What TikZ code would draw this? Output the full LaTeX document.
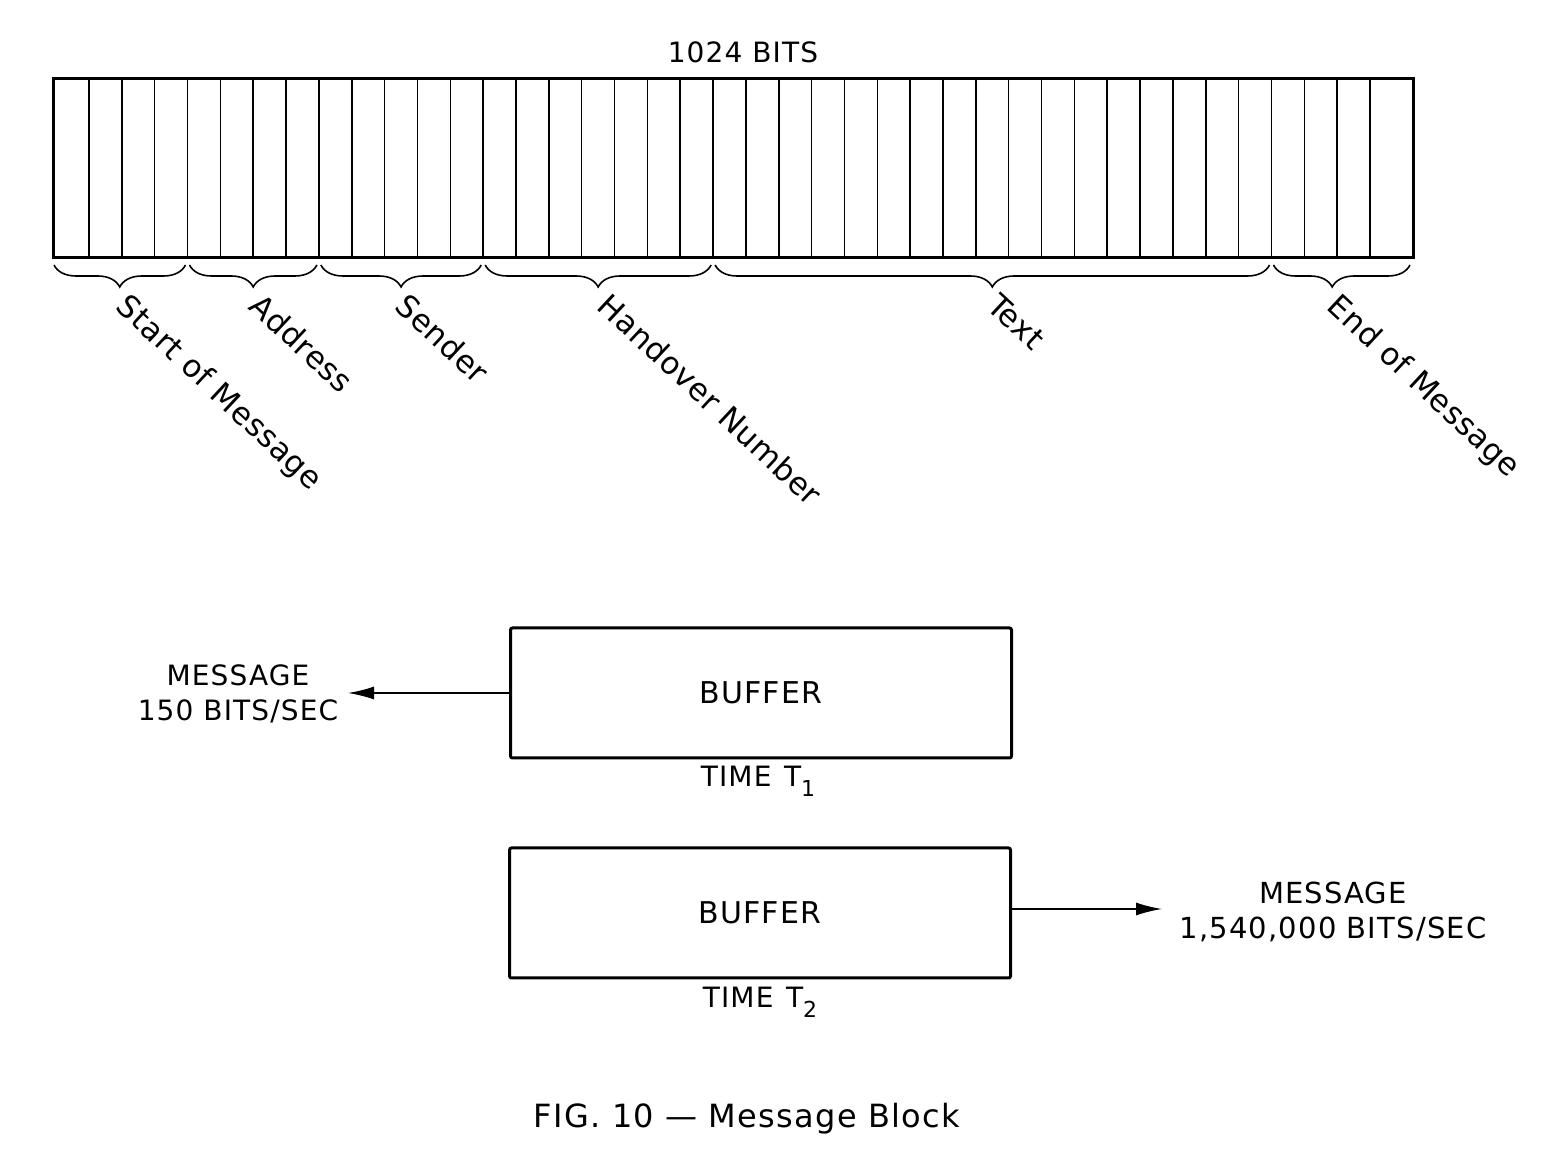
\documentclass[tikz,border=0pt]{standalone}
\usepackage{fontspec}
\setmainfont{DejaVu Sans}[LetterSpace=4]
\usetikzlibrary{decorations.pathreplacing,arrows.meta}
\begin{document}
\begin{tikzpicture}[x=0.5pt,y=-0.5pt,
  lbl/.style={font=\fontsize{14}{17.5}\selectfont, inner sep=0pt, align=center},
  seglbl/.style={font=\fontsize{15.5}{17}\selectfont\addfontfeature{LetterSpace=1.5}, rotate=-43, anchor=north west, inner sep=0pt},
  bufbox/.style={draw, line width=1.5pt, minimum width=250.5pt, minimum height=65pt, inner sep=0pt, font=\fontsize{15}{17}\selectfont, rounded corners=1pt},
  barbox/.style={draw, line width=1.5pt, inner sep=0pt, minimum width=680pt, minimum height=89.5pt, anchor=north west},
  cell/.style={line width=0.8pt},
  seg/.style={decorate, decoration={brace, mirror, amplitude=11pt, #1}, line width=0.8pt},
  seg/.default={aspect=0.5},
  flow/.style={line width=0.8pt, -{Latex[length=13pt,width=6.5pt]}}
]
\useasboundingbox (0,0) rectangle (1560,1170);

% bit block
\node[lbl] (bits) at (743,52) {1024 BITS};
\node[barbox] (bar) at (52,77) {};
\foreach \k in {1,...,40}
  \draw[cell] ({89+32.846*(\k-1)},77) -- ({89+32.846*(\k-1)},256);

% brace end points
\coordinate (s0) at (54,265);      \coordinate (s1) at (185.5,265);
\coordinate (a0) at (189.5,265);   \coordinate (a1) at (316.9,265);
\coordinate (d0) at (320.9,265);   \coordinate (d1) at (481.2,265);
\coordinate (h0) at (485.2,265);   \coordinate (h1) at (711.1,265);
\coordinate (t0) at (715.1,265);   \coordinate (t1) at (1269.5,265);
\coordinate (e0) at (1273.5,265);  \coordinate (e1) at (1410,265);

\draw[seg] (s0) -- (s1);
\draw[seg] (a0) -- (a1);
\draw[seg] (d0) -- (d1);
\draw[seg] (h0) -- (h1);
\draw[seg] (t0) -- (t1);
\draw[seg={aspect=0.43}] (e0) -- (e1);

\node[seglbl] (lstart) at (131,291) {Start of Message};
\node[seglbl] (laddr) at (264,291) {Address};
\node[seglbl] (lsend) at (410,291) {Sender};
\node[seglbl] (lhand) at (612,291) {Handover Number};
\node[seglbl] (ltext) at (1001,291) {Text};
\node[seglbl] (lend) at (1342,291) {End of Message};

% buffers
\node[bufbox] (buf1) at (761,693) {BUFFER};
\node[lbl] (time1) at (758,781) {TIME\hspace{0.45em}T\raisebox{-0.35em}{\fontsize{11}{12}\selectfont 1}};
\node[bufbox] (buf2) at (760,913) {BUFFER};
\node[lbl] (time2) at (760,1002) {TIME\hspace{0.45em}T\raisebox{-0.35em}{\fontsize{11}{12}\selectfont 2}};

\node[lbl] (msg1) at (238,694) {MESSAGE\\150 BITS/SEC};
\node[lbl, font=\fontsize{14.5}{17.5}\selectfont] (msg2) at (1333,912) {MESSAGE\\1,540,000 BITS/SEC};

\coordinate (tip1) at (348,693);
\coordinate (tip2) at (1162,909);
\draw[flow] (buf1.west) -- (tip1);
\draw[flow] (buf2.east |- tip2) -- (tip2);

\node[lbl, font=\fontsize{16}{18}\selectfont] (cap) at (747,1119) {FIG. 10 — Message Block};
\end{tikzpicture}
\end{document}
